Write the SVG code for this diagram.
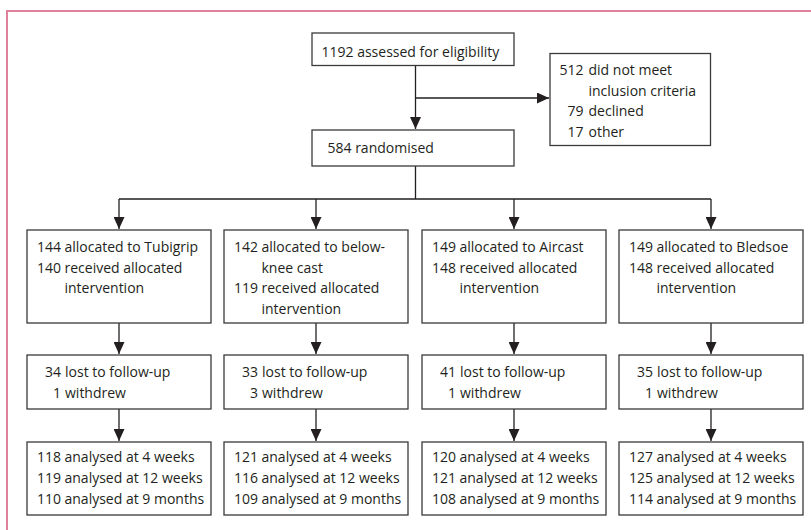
<svg xmlns="http://www.w3.org/2000/svg" width="811" height="530" viewBox="0 0 811 530">
<style>
text{font-family:"Open Sans","Noto Sans",sans-serif;font-size:14px;fill:#231f20}
.e{text-anchor:end}
.box{fill:#fff;stroke:#3a3a3a;stroke-width:1.3}
.ln{fill:none;stroke:#231f20;stroke-width:1.3}
.frame{fill:none;stroke:#e0819c;stroke-width:2}
</style>
<defs>
<marker id="ah" viewBox="0 0 12 11" refX="12" refY="5.5" markerWidth="12" markerHeight="11" markerUnits="userSpaceOnUse" orient="auto">
<path d="M0,0 L12,5.5 L0,11 Z" fill="#231f20"/>
</marker>
</defs>
<rect width="811" height="530" fill="#fff"/>
<path class="frame" d="M7,530 V11 H811"/>

<g id="connectors">
<path class="ln" d="M415.5,65.5 V129" marker-end="url(#ah)"/>
<path class="ln" d="M415.5,98 H549" marker-end="url(#ah)"/>
<path class="ln" d="M415.5,166 V199 M119,199 H711"/>
<path class="ln" d="M119,199 V229" marker-end="url(#ah)"/>
<path class="ln" d="M316,199 V229" marker-end="url(#ah)"/>
<path class="ln" d="M514,199 V229" marker-end="url(#ah)"/>
<path class="ln" d="M711,199 V229" marker-end="url(#ah)"/>
<path class="ln" d="M119,323 V354" marker-end="url(#ah)"/>
<path class="ln" d="M316,323 V354" marker-end="url(#ah)"/>
<path class="ln" d="M514,323 V354" marker-end="url(#ah)"/>
<path class="ln" d="M711,323 V354" marker-end="url(#ah)"/>
<path class="ln" d="M119,409 V441" marker-end="url(#ah)"/>
<path class="ln" d="M316,409 V441" marker-end="url(#ah)"/>
<path class="ln" d="M514,409 V441" marker-end="url(#ah)"/>
<path class="ln" d="M711,409 V441" marker-end="url(#ah)"/>
</g>

<g id="assessed">
<rect class="box" x="312" y="33" width="202" height="32.5"/>
<text x="321.5" y="57">1192 assessed for eligibility</text>
</g>

<g id="excluded">
<rect class="box" x="550" y="53.5" width="160.5" height="92"/>
<text><tspan class="e" x="583.5" y="75">512</tspan><tspan x="588.5" y="75">did not meet</tspan></text>
<text x="588.5" y="95.5">inclusion criteria</text>
<text><tspan class="e" x="583.5" y="116">79</tspan><tspan x="588.5" y="116">declined</tspan></text>
<text><tspan class="e" x="583.5" y="136.5">17</tspan><tspan x="588.5" y="136.5">other</tspan></text>
</g>

<g id="randomised">
<rect class="box" x="312" y="130" width="202" height="36"/>
<text x="327.5" y="153">584 randomised</text>
</g>

<g id="tubigrip">
<rect class="box" x="27" y="230" width="184" height="93"/>
<text><tspan class="e" x="61" y="252">144</tspan><tspan x="64.5" y="252">allocated to Tubigrip</tspan></text>
<text><tspan class="e" x="61" y="272.5">140</tspan><tspan x="64.5" y="272.5">received allocated</tspan></text>
<text x="64.5" y="293">intervention</text>
</g>

<g id="cast">
<rect class="box" x="224" y="230" width="184" height="93"/>
<text><tspan class="e" x="258" y="252">142</tspan><tspan x="261.5" y="252">allocated to below-</tspan></text>
<text x="261.5" y="272.5">knee cast</text>
<text><tspan class="e" x="258" y="293">119</tspan><tspan x="261.5" y="293">received allocated</tspan></text>
<text x="261.5" y="313.5">intervention</text>
</g>

<g id="aircast">
<rect class="box" x="422" y="230" width="184" height="93"/>
<text><tspan class="e" x="456" y="252">149</tspan><tspan x="459.5" y="252">allocated to Aircast</tspan></text>
<text><tspan class="e" x="456" y="272.5">148</tspan><tspan x="459.5" y="272.5">received allocated</tspan></text>
<text x="459.5" y="293">intervention</text>
</g>

<g id="bledsoe">
<rect class="box" x="619" y="230" width="184" height="93"/>
<text><tspan class="e" x="653" y="252">149</tspan><tspan x="656.5" y="252">allocated to Bledsoe</tspan></text>
<text><tspan class="e" x="653" y="272.5">148</tspan><tspan x="656.5" y="272.5">received allocated</tspan></text>
<text x="656.5" y="293">intervention</text>
</g>

<g id="lost-tubigrip">
<rect class="box" x="27" y="355" width="184" height="54"/>
<text><tspan class="e" x="61" y="377">34</tspan><tspan x="65" y="377">lost to follow-up</tspan></text>
<text><tspan class="e" x="61" y="397.5">1</tspan><tspan x="65" y="397.5">withdrew</tspan></text>
</g>
<g id="lost-cast">
<rect class="box" x="224" y="355" width="184" height="54"/>
<text><tspan class="e" x="258" y="377">33</tspan><tspan x="262" y="377">lost to follow-up</tspan></text>
<text><tspan class="e" x="258" y="397.5">3</tspan><tspan x="262" y="397.5">withdrew</tspan></text>
</g>
<g id="lost-aircast">
<rect class="box" x="422" y="355" width="184" height="54"/>
<text><tspan class="e" x="456" y="377">41</tspan><tspan x="460" y="377">lost to follow-up</tspan></text>
<text><tspan class="e" x="456" y="397.5">1</tspan><tspan x="460" y="397.5">withdrew</tspan></text>
</g>
<g id="lost-bledsoe">
<rect class="box" x="619" y="355" width="184" height="54"/>
<text><tspan class="e" x="653" y="377">35</tspan><tspan x="657" y="377">lost to follow-up</tspan></text>
<text><tspan class="e" x="653" y="397.5">1</tspan><tspan x="657" y="397.5">withdrew</tspan></text>
</g>

<g id="analysed-tubigrip">
<rect class="box" x="27" y="442" width="184" height="73"/>
<text><tspan class="e" x="61" y="462">118</tspan><tspan x="64.5" y="462">analysed at 4 weeks</tspan></text>
<text><tspan class="e" x="61" y="483">119</tspan><tspan x="64.5" y="483">analysed at 12 weeks</tspan></text>
<text><tspan class="e" x="61" y="504">110</tspan><tspan x="64.5" y="504">analysed at 9 months</tspan></text>
</g>
<g id="analysed-cast">
<rect class="box" x="224" y="442" width="184" height="73"/>
<text><tspan class="e" x="258" y="462">121</tspan><tspan x="261.5" y="462">analysed at 4 weeks</tspan></text>
<text><tspan class="e" x="258" y="483">116</tspan><tspan x="261.5" y="483">analysed at 12 weeks</tspan></text>
<text><tspan class="e" x="258" y="504">109</tspan><tspan x="261.5" y="504">analysed at 9 months</tspan></text>
</g>
<g id="analysed-aircast">
<rect class="box" x="422" y="442" width="184" height="73"/>
<text><tspan class="e" x="456" y="462">120</tspan><tspan x="459.5" y="462">analysed at 4 weeks</tspan></text>
<text><tspan class="e" x="456" y="483">121</tspan><tspan x="459.5" y="483">analysed at 12 weeks</tspan></text>
<text><tspan class="e" x="456" y="504">108</tspan><tspan x="459.5" y="504">analysed at 9 months</tspan></text>
</g>
<g id="analysed-bledsoe">
<rect class="box" x="619" y="442" width="184" height="73"/>
<text><tspan class="e" x="653" y="462">127</tspan><tspan x="656.5" y="462">analysed at 4 weeks</tspan></text>
<text><tspan class="e" x="653" y="483">125</tspan><tspan x="656.5" y="483">analysed at 12 weeks</tspan></text>
<text><tspan class="e" x="653" y="504">114</tspan><tspan x="656.5" y="504">analysed at 9 months</tspan></text>
</g>
</svg>
